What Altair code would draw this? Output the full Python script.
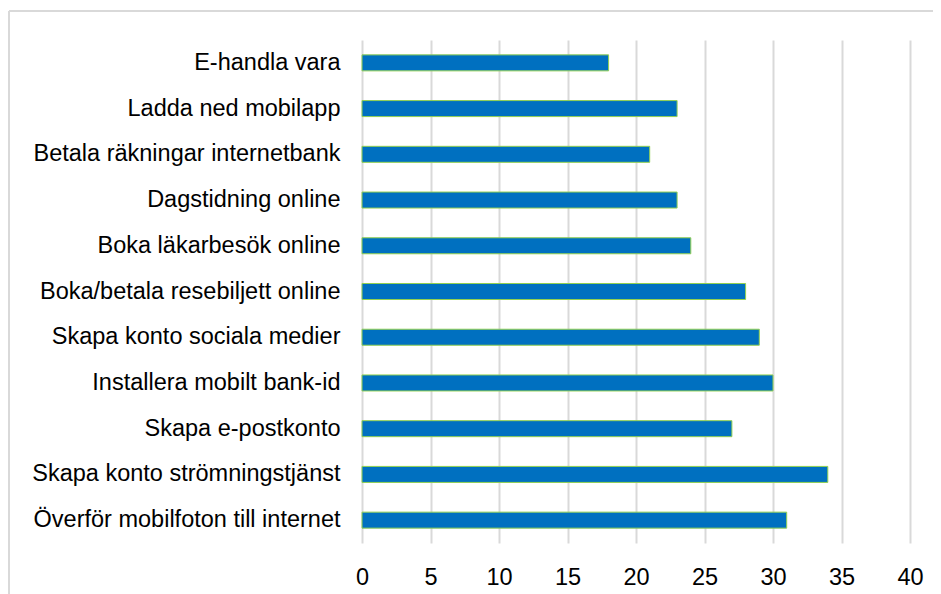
import altair as alt
import pandas as pd

categories = [
    "E-handla vara",
    "Ladda ned mobilapp",
    "Betala räkningar internetbank",
    "Dagstidning online",
    "Boka läkarbesök online",
    "Boka/betala resebiljett online",
    "Skapa konto sociala medier",
    "Installera mobilt bank-id",
    "Skapa e-postkonto",
    "Skapa konto strömningstjänst",
    "Överför mobilfoton till internet",
]
values = [18, 23, 21, 23, 24, 28, 29, 30, 27, 34, 31]
x_ticks = [0, 5, 10, 15, 20, 25, 30, 35, 40]

df = pd.DataFrame({"cat": categories, "val": values})

FONT = "Liberation Sans"

bars = alt.Chart(df).mark_bar(
    color="#0070C0", stroke="#92D050", strokeWidth=1
).encode(
    y=alt.Y("cat:N", sort=categories,
            scale=alt.Scale(paddingInner=0.65, paddingOuter=0.325),
            axis=alt.Axis(title=None, domain=False, ticks=False, labelPadding=22,
                          labelFontSize=23.5, labelFont=FONT, labelColor="#000000",
                          labelLimit=400, grid=False)),
    x=alt.X("val:Q", scale=alt.Scale(domain=[0, 40]),
            axis=alt.Axis(title=None, values=x_ticks, domain=False, ticks=False,
                          labelPadding=22, labelFontSize=23.5, labelFont=FONT,
                          labelFlush=False, labelOverlap=False,
                          labelColor="#000000", grid=True, gridColor="#d9d9d9",
                          gridWidth=2)),
)

frame_top = alt.Chart(df).mark_rule(color="#d9d9d9", strokeWidth=1.5).encode(
    x=alt.value(-353), x2=alt.value(620), y=alt.value(-29)
)
frame_left = alt.Chart(df).mark_rule(color="#d9d9d9", strokeWidth=1.5).encode(
    x=alt.value(-353), y=alt.value(-29), y2=alt.value(560)
)

chart = alt.layer(bars, frame_top, frame_left).properties(
    width=548, height=503,
    autosize=alt.AutoSizeParams(type="none"),
    padding={"left": 354, "top": 32, "right": 23, "bottom": 51},
).configure_view(stroke=None)

chart.save("out.html", embed_options={"renderer": "svg", "actions": False})
